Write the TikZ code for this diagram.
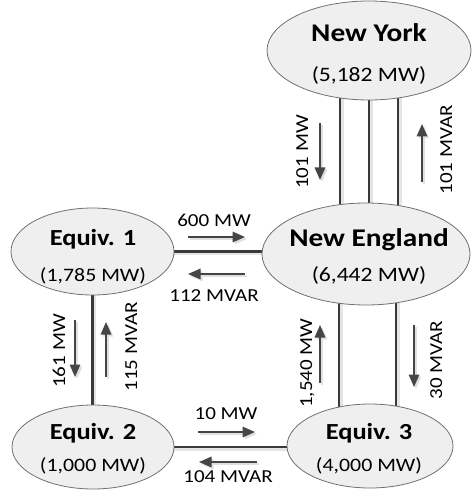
\documentclass[tikz,border=0pt]{standalone}
\usepackage{fontspec}
\setmainfont{Carlito}[FakeStretch=1.15]
\usetikzlibrary{shapes.geometric,arrows.meta,backgrounds}
\definecolor{linecol}{HTML}{3A3A3A}
\definecolor{arrcol}{HTML}{454545}
\definecolor{fillcol}{HTML}{EFEFEF}
\definecolor{edgecol}{HTML}{707070}
\begin{document}
\begin{tikzpicture}[x=1pt,y=-1pt,
  area/.style={ellipse,draw=edgecol,line width=0.8pt,fill=fillcol,inner sep=0pt},
  bigtitle/.style={font=\fontsize{25.5}{30}\selectfont\bfseries,anchor=base,inner sep=0pt},
  title/.style={font=\fontsize{23}{28}\selectfont\bfseries,anchor=base,inner sep=0pt},
  bigvalue/.style={font=\fontsize{20.5}{24}\selectfont,anchor=base,inner sep=0pt},
  value/.style={font=\fontsize{19}{23}\selectfont,anchor=base,inner sep=0pt},
  lbl/.style={font=\fontsize{18.3}{22}\selectfont,anchor=base,inner sep=0pt},
  vlbl/.style={lbl,rotate=90},
  tie/.style={draw=linecol,line width=2.6pt},
  tieshadow/.style={draw=black!10,line width=2.6pt},
  flow/.style={draw=arrcol,line width=1.7pt,-{Triangle[length=12.5pt,width=10.5pt]}},
  flowshadow/.style={draw=black!12,line width=1.7pt,-{Triangle[length=12.5pt,width=10.5pt]}}
]
\useasboundingbox (0,0) rectangle (471,494);

% areas
\node[area,minimum width=204pt,minimum height=99pt] (ny) at (369,50.5) {};
\node[area,minimum width=208pt,minimum height=102pt] (ne) at (366,254) {};
\node[area,minimum width=163pt,minimum height=87pt] (e1) at (92.5,251.5) {};
\node[area,minimum width=162pt,minimum height=84pt] (e2) at (93,447) {};
\node[area,minimum width=166pt,minimum height=84pt] (e3) at (370,446) {};

% tie lines (behind the areas)
\begin{scope}[on background layer]
  \foreach \s in {-29,0,29}{
    \draw[tieshadow] ([xshift=\s pt+2.5pt]ny.center) -- ([xshift=\s pt+2.5pt]ny.center |- ne.center);
    \draw[tie] ([xshift=\s pt]ny.center) -- ([xshift=\s pt]ny.center |- ne.center);
  }
  \draw[tieshadow] ([yshift=-2.5pt]e1.center) -- ([yshift=-2.5pt]e1.center -| ne.center);
  \draw[tie] (e1.center) -- (e1.center -| ne.center);
  \draw[tieshadow] ([xshift=2.5pt]e1.center) -- ([xshift=2.5pt]e1.center |- e2.center);
  \draw[tie] (e1.center) -- (e1.center |- e2.center);
  \draw[tieshadow] ([yshift=-2.5pt]e2.center) -- ([yshift=-2.5pt]e2.center -| e3.center);
  \draw[tie] (e2.center) -- (e2.center -| e3.center);
  \foreach \s in {-27,30}{
    \draw[tieshadow] ([xshift=\s pt+2.5pt]ne.center) -- ([xshift=\s pt+2.5pt]ne.center |- e3.center);
    \draw[tie] ([xshift=\s pt]ne.center) -- ([xshift=\s pt]ne.center |- e3.center);
  }
\end{scope}

% texts in areas
\node[bigtitle] (nyt) at (369,42) {New York};
\node[bigvalue] (nyv) at (369,82) {(5,182 MW)};
\node[bigtitle] (net) at (369,246) {New England};
\node[bigvalue] (nev) at (369,281) {(6,442 MW)};
\node[title] (e1t) at (93,245) {Equiv. 1};
\node[value] (e1v) at (93,281) {(1,785 MW)};
\node[title] (e2t) at (93,439) {Equiv. 2};
\node[value] (e2v) at (93,471) {(1,000 MW)};
\node[title] (e3t) at (369,439) {Equiv. 3};
\node[value] (e3v) at (369,471) {(4,000 MW)};

% flow arrows
\foreach \ax/\ay/\bx/\by in {320/123/320/180, 422/182/422/124, 188/237/245/237, 245/274/188/274,
  75/320/75/377, 106/377/106/322, 198/432/255/432, 257/462/199/462,
  320/383/320/325, 414/325/414/387}{
  \draw[flowshadow] (\ax+2,\ay+2) -- (\bx+2,\by+2);
  \draw[flow] (\ax,\ay) -- (\bx,\by);
}

% flow labels
\node[vlbl] (l1) at (308,152) {101 MW};
\node[vlbl] (l2) at (452,150) {101 MVAR};
\node[lbl] (l3) at (214,226) {600 MW};
\node[lbl] (l4) at (214,301) {112 MVAR};
\node[vlbl] (l5) at (65,351) {161 MW};
\node[vlbl] (l6) at (137,347) {115 MVAR};
\node[lbl] (l7) at (226,419) {10 MW};
\node[lbl] (l8) at (228,482) {104 MVAR};
\node[vlbl] (l9) at (312,363) {1,540 MW};
\node[vlbl] (l10) at (442,360) {30 MVAR};
\end{tikzpicture}
\end{document}
